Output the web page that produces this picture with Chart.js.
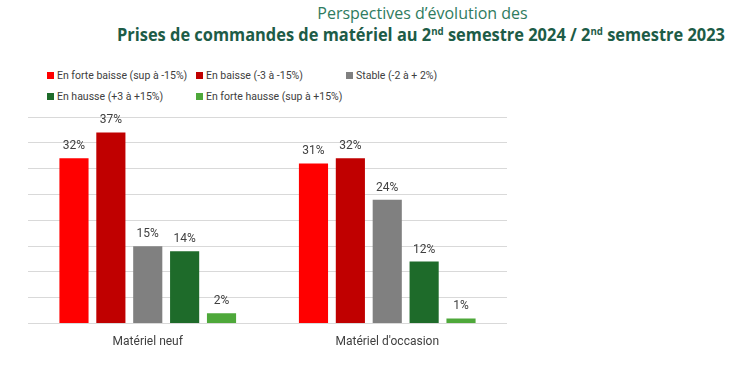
<!DOCTYPE html>
<html lang="fr">
<head>
<meta charset="utf-8">
<script src="https://cdn.jsdelivr.net/npm/chart.js@4.4.1/dist/chart.umd.min.js"></script>
<style>
  html, body { margin: 0; padding: 0; background: #fff; }
  body { width: 747px; height: 370px; position: relative; overflow: hidden; font-family: Roboto, sans-serif; }
  .title1 { position: absolute; left: 0; width: 845px; top: 2px; text-align: center; font-family: 'Open Sans', sans-serif; font-size: 16px; color: #2f7b60; white-space: nowrap; }
  .title2 { position: absolute; left: 117px; top: 23px; font-family: 'Open Sans', sans-serif; font-weight: bold; font-size: 17px; color: #1d5c47; white-space: nowrap; transform-origin: left center; }
  .title2 sup { font-size: 10px; vertical-align: 6px; line-height: 0; }
  .legend { position: absolute; left: 0; top: 0; font-size: 10.5px; color: #404040; }
  .legend .item { position: absolute; white-space: nowrap; line-height: 14px; }
  .legend .box { display: inline-block; width: 7px; height: 7px; margin-right: 3px; vertical-align: 0px; }
  .wrap { position: absolute; left: 28px; top: 105px; width: 479px; height: 255px; }
</style>
</head>
<body>
<div class="title1">Perspectives d’évolution des</div>
<div class="title2" id="title2">Prises de commandes de matériel au 2<sup>nd</sup> semestre 2024 / 2<sup>nd</sup> semestre 2023</div>
<div class="legend" id="legend"></div>
<div class="wrap"><canvas id="chart"></canvas></div>
<script>
'use strict';

const categories = ['Matériel neuf', "Matériel d'occasion"];
const seriesNames = [
  'En forte baisse (sup à -15%)',
  'En baisse (-3 à -15%)',
  'Stable (-2 à + 2%)',
  'En hausse (+3 à +15%)',
  'En forte hausse (sup à +15%)',
];
const forteBaisse = [32, 31];
const baisse = [37, 32];
const stable = [15, 24];
const hausse = [14, 12];
const forteHausse = [2, 1];
const yTicks = [0, 5, 10, 15, 20, 25, 30, 35, 40];

const colors = ['#ff0000', '#c00000', '#808080', '#1e6b2a', '#4ea83a'];
const values = [forteBaisse, baisse, stable, hausse, forteHausse];

// legend positions (grid like the original)
const legendPos = [[47, 69], [196, 69], [346, 69], [47, 90], [196, 90]];
const legend = document.getElementById('legend');
seriesNames.forEach((name, i) => {
  const item = document.createElement('div');
  item.className = 'item';
  item.style.left = legendPos[i][0] + 'px';
  item.style.top = legendPos[i][1] + 'px';
  item.innerHTML = `<span class="box" style="background:${colors[i]}"></span>${name}`;
  legend.appendChild(item);
});

// fit title line 2 to the original width
const title2 = document.getElementById('title2');
const w = title2.getBoundingClientRect().width;
title2.style.transform = `scaleX(${608 / w})`;

const valueLabels = {
  id: 'valueLabels',
  afterDatasetsDraw(chart) {
    const ctx = chart.ctx;
    ctx.save();
    ctx.font = '12px Roboto';
    ctx.fillStyle = '#404040';
    ctx.textAlign = 'center';
    ctx.textBaseline = 'bottom';
    chart.data.datasets.forEach((ds, i) => {
      chart.getDatasetMeta(i).data.forEach((bar, j) => {
        ctx.fillText(ds.data[j] + '%', bar.x, bar.y - 6);
      });
    });
    ctx.restore();
  },
};

new Chart(document.getElementById('chart'), {
  type: 'bar',
  data: {
    labels: categories,
    datasets: seriesNames.map((name, i) => ({
      label: name,
      data: values[i],
      backgroundColor: colors[i],
      borderWidth: 0,
    })),
  },
  options: {
    responsive: true,
    maintainAspectRatio: false,
    animation: false,
    layout: { padding: { top: 12, left: 0, right: 0, bottom: 0 } },
    categoryPercentage: 0.77,
    barPercentage: 0.79,
    scales: {
      x: {
        grid: { display: false, drawTicks: false },
        border: { display: false },
        ticks: { color: '#404040', font: { family: 'Roboto', size: 12 }, padding: 11 },
      },
      y: {
        min: 0,
        max: 40,
        afterBuildTicks: axis => {
          axis.ticks = yTicks.map(v => ({ value: v }));
        },
        grid: { color: '#d9d9d9', lineWidth: 1, drawTicks: false },
        border: { display: false },
        ticks: { display: false },
      },
    },
    plugins: {
      legend: { display: false },
      tooltip: { enabled: false },
    },
  },
  plugins: [valueLabels],
});
</script>
</body>
</html>
